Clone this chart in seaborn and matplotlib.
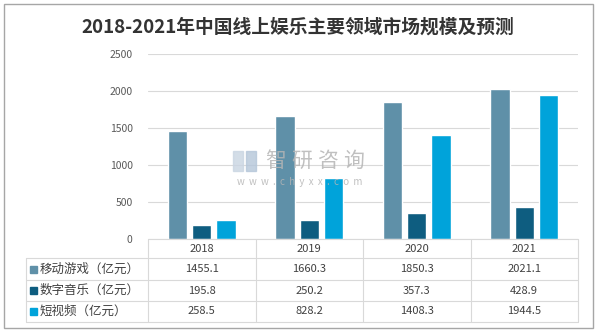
import numpy as np
import pandas as pd
import matplotlib
matplotlib.use("Agg")
import matplotlib.pyplot as plt
from matplotlib.lines import Line2D
from matplotlib.patches import Rectangle
import seaborn as sns

years = ["2018", "2019", "2020", "2021"]
series = ["移动游戏（亿元）", "数字音乐（亿元）", "短视频（亿元）"]
mobile_games = [1455.1, 1660.3, 1850.3, 2021.1]
digital_music = [195.8, 250.2, 357.3, 428.9]
short_video = [258.5, 828.2, 1408.3, 1944.5]
yticks = [0, 500, 1000, 1500, 2000, 2500]
colors = ["#5F90A8", "#0E5D80", "#00A3DA"]
title = "2018-2021年中国线上娱乐主要领域市场规模及预测"

values = [mobile_games, digital_music, short_video]
df = pd.DataFrame({
    "year": [y for s in series for y in years],
    "series": [s for s in series for _ in years],
    "value": [v for vals in values for v in vals],
})

sns.set_theme(style="white")
plt.rcParams["font.family"] = ["Noto Sans CJK SC", "DejaVu Sans"]

W, H = 600, 335
fig = plt.figure(figsize=(6, 3.35), dpi=100)

def fx(px):
    return px / W

def fy(py):
    return 1 - py / H

L, R, T, B = 148, 578, 54, 239
ax = fig.add_axes([fx(L), fy(B), fx(R) - fx(L), fy(T) - fy(B)])
sns.barplot(data=df, x="year", y="value", hue="series", palette=colors,
            width=0.68, gap=0.2, ax=ax, legend=False, saturation=1)
ax.set_ylim(0, 2500)
ax.set_xlim(-0.5, 3.5)
ax.set_yticks(yticks)
ax.set_yticklabels([str(t) for t in yticks], fontsize=7.5, color="#595959")
ax.set_xticks([])
ax.set_xlabel("")
ax.set_ylabel("")
ax.tick_params(axis="y", length=0, pad=11)
for s in ax.spines.values():
    s.set_visible(False)
ax.yaxis.grid(True, color="#D9D9D9", linewidth=0.8)
ax.set_axisbelow(True)

# outer border
fig.add_artist(Rectangle((fx(4), fy(328)), fx(593) - fx(4), fy(4) - fy(328),
                         transform=fig.transFigure, fill=False,
                         edgecolor="#A6A6A6", linewidth=1.0))

fig.text(0.497, fy(27), title, ha="center", va="center", fontsize=13.5,
         fontweight="bold", color="#333333")

# watermark
wm = "#B5B5B5"
fig.add_artist(Rectangle((fx(233), fy(171)), fx(10) - fx(0), fy(151) - fy(171),
                         transform=fig.transFigure, color="#C9D5E2", alpha=0.8))
fig.add_artist(Rectangle((fx(246), fy(171)), fx(10) - fx(0), fy(151) - fy(171),
                         transform=fig.transFigure, color="#B4C6D9", alpha=0.8))
for i, ch in enumerate("智研咨询"):
    fig.text(fx(276 + 26 * i), fy(161), ch, ha="center", va="center",
             fontsize=15, color=wm, alpha=0.85)
fig.text(fx(300), fy(182), "w  w  w  .  c  h  y  x  x  .  c  o  m", ha="center",
         va="center", fontsize=7, color=wm, alpha=0.85)

# data table
line_c = "#D9D9D9"
col_edges = [L + (R - L) * k / 4 for k in range(5)]
row_edges = [258, 280, 301, 322]
TL = 26

def hline(x0, x1, y):
    fig.add_artist(Line2D([fx(x0), fx(x1)], [fy(y), fy(y)],
                          transform=fig.transFigure, color=line_c, lw=0.8))

def vline(x, y0, y1):
    fig.add_artist(Line2D([fx(x), fx(x)], [fy(y0), fy(y1)],
                          transform=fig.transFigure, color=line_c, lw=0.8))

hline(L, R, B)
for y in row_edges:
    hline(TL, R, y)
vline(TL, row_edges[0], row_edges[-1])
for x in col_edges:
    vline(x, B, row_edges[-1])

tc = "#404040"
for k, yr in enumerate(years):
    cx = (col_edges[k] + col_edges[k + 1]) / 2
    fig.text(fx(cx), fy((B + row_edges[0]) / 2), yr, ha="center", va="center",
             fontsize=8, color=tc)
for r, (name, vals) in enumerate(zip(series, values)):
    cy = (row_edges[r] + row_edges[r + 1]) / 2
    fig.add_artist(Rectangle((fx(30), fy(cy + 3.5)), fx(7), fy(0) - fy(7),
                             transform=fig.transFigure, color=colors[r]))
    fig.text(fx(40), fy(cy), name, ha="left", va="center", fontsize=9, color=tc)
    for k, v in enumerate(vals):
        cx = (col_edges[k] + col_edges[k + 1]) / 2
        fig.text(fx(cx), fy(cy), f"{v:.1f}", ha="center", va="center",
                 fontsize=8, color=tc)

fig.savefig("out.png", dpi=100)
